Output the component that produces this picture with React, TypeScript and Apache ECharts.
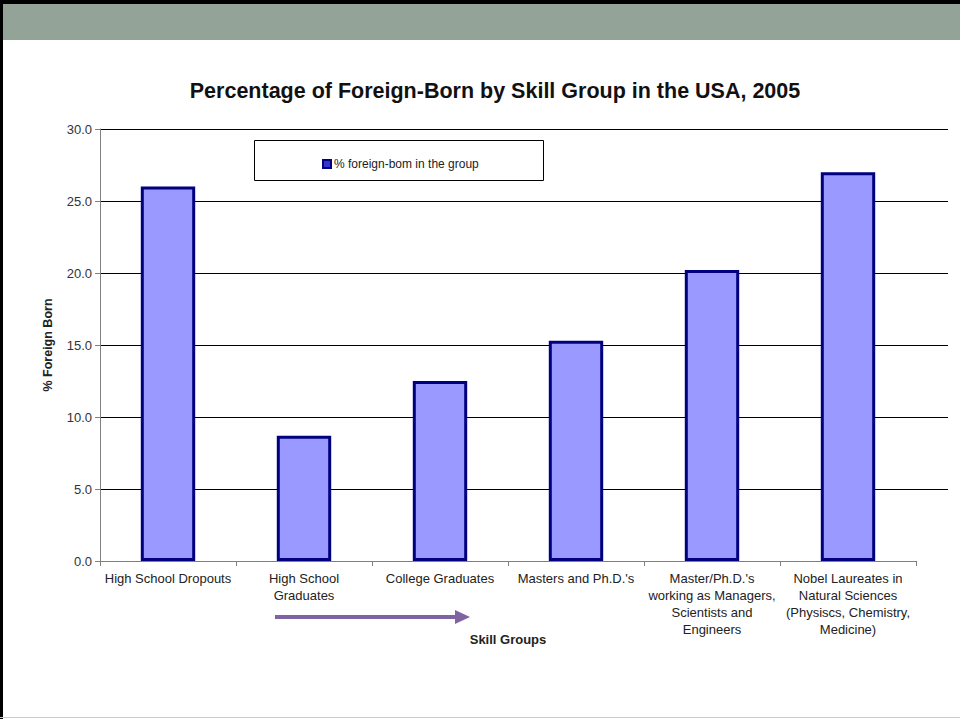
import React, { useEffect, useRef } from "react";
import * as echarts from "echarts";

const categories = [
  "High School Dropouts",
  "High School\nGraduates",
  "College Graduates",
  "Masters and Ph.D.'s",
  "Master/Ph.D.'s\nworking as Managers,\nScientists and\nEngineers",
  "Nobel Laureates in\nNatural Sciences\n(Physiscs, Chemistry,\nMedicine)",
];
const foreignBorn = [26.0, 8.7, 12.5, 15.3, 20.2, 27.0];
const yTicks = { min: 0, max: 30, interval: 5 };
const seriesName = "% foreign-bom in the group";
const titleText = "Percentage of Foreign-Born by Skill Group in the USA, 2005";

const FONT = "'Liberation Sans', Arial, sans-serif";

export default function App() {
  const ref = useRef<HTMLDivElement>(null);
  useEffect(() => {
    if (!ref.current) return;
    const chart = echarts.init(ref.current, undefined, { renderer: "svg" });
    chart.setOption({
      animation: false,
      backgroundColor: "#ffffff",
      textStyle: { fontFamily: FONT },
      title: {
        text: titleText,
        left: 490,
        textAlign: "center",
        top: 75,
        textStyle: { fontFamily: FONT, fontSize: 21.5, fontWeight: "bold", color: "#111" },
      },
      legend: {
        left: 317,
        top: 153,
        itemWidth: 8,
        itemHeight: 8,
        itemGap: 4,
        icon: "rect",
        itemStyle: { borderColor: "#000080", borderWidth: 2, color: "#3333cc" },
        textStyle: { fontFamily: FONT, fontSize: 12, color: "#222", padding: [0, 0, 0, -2] },
        data: [seriesName],
      },
      grid: [
        { left: 100, right: 12, top: 129, bottom: 158, containLabel: false },
        { left: 100, right: 44, top: 129, bottom: 158, containLabel: false },
      ],
      xAxis: [
        {
          gridIndex: 0,
          type: "category",
          data: categories,
          show: false,
        },
        {
          gridIndex: 1,
          type: "category",
          data: categories,
          name: "Skill Groups",
          nameLocation: "middle",
          nameGap: 72,
          nameMoveOverlap: false,
          nameTextStyle: { fontFamily: FONT, fontSize: 13, fontWeight: "bold", color: "#222" },
          axisLine: { lineStyle: { color: "#808080", width: 1 } },
          axisTick: { show: true, length: 5, lineStyle: { color: "#808080" } },
          axisLabel: {
            interval: 0,
            margin: 9,
            fontFamily: FONT,
            fontSize: 13,
            lineHeight: 17,
            color: "#222",
            align: "center",
          },
          splitLine: { show: false },
        },
      ],
      yAxis: [
        {
          gridIndex: 0,
          type: "value",
          min: yTicks.min,
          max: yTicks.max,
          interval: yTicks.interval,
          name: "% Foreign Born",
          nameLocation: "middle",
          nameGap: 46,
          nameRotate: 90,
          nameTextStyle: { fontFamily: FONT, fontSize: 12.5, fontWeight: "bold", color: "#222" },
          axisLine: { show: true, lineStyle: { color: "#808080", width: 1 } },
          axisTick: { show: true, length: 5, lineStyle: { color: "#808080" } },
          axisLabel: {
            margin: 8,
            fontFamily: FONT,
            fontSize: 13,
            color: "#333",
            formatter: (v: number) => v.toFixed(1),
          },
          splitLine: { show: true, showMinLine: false, lineStyle: { color: "#000000", width: 1 } },
        },
        {
          gridIndex: 1,
          type: "value",
          min: yTicks.min,
          max: yTicks.max,
          interval: yTicks.interval,
          show: false,
          splitLine: { show: false },
        },
      ],
      series: [
        {
          name: seriesName,
          type: "bar",
          xAxisIndex: 1,
          yAxisIndex: 1,
          data: foreignBorn,
          barWidth: "40%",
          itemStyle: { color: "#9999ff", borderColor: "#000080", borderWidth: 3 },
        },
      ],
      graphic: [
        { type: "rect", shape: { x: 0, y: 0, width: 960, height: 40 }, style: { fill: "#93a397" }, z: 0 },
        { type: "rect", shape: { x: 0, y: 0, width: 960, height: 4 }, style: { fill: "#000000" }, z: 1 },
        { type: "rect", shape: { x: 0, y: 0, width: 3, height: 719 }, style: { fill: "#000000" }, z: 1 },
        { type: "line", shape: { x1: 0, y1: 717.5, x2: 960, y2: 717.5 }, style: { stroke: "#cccccc", lineWidth: 1 }, z: 1 },
        {
          type: "rect",
          shape: { x: 254.5, y: 140.5, width: 289, height: 40 },
          style: { fill: "none", stroke: "#000000", lineWidth: 1 },
          z: 1,
        },
        {
          type: "line",
          shape: { x1: 275, y1: 617, x2: 458, y2: 617 },
          style: { stroke: "#8064a2", lineWidth: 4 },
          z: 1,
        },
        {
          type: "polygon",
          shape: { points: [[455, 610], [470, 617], [455, 624]] },
          style: { fill: "#8064a2" },
          z: 1,
        },
      ],
    });
    return () => chart.dispose();
  }, []);
  return (
    <div
      ref={ref}
      style={{ position: "fixed", left: 0, top: 0, width: 960, height: 719 }}
    />
  );
}
